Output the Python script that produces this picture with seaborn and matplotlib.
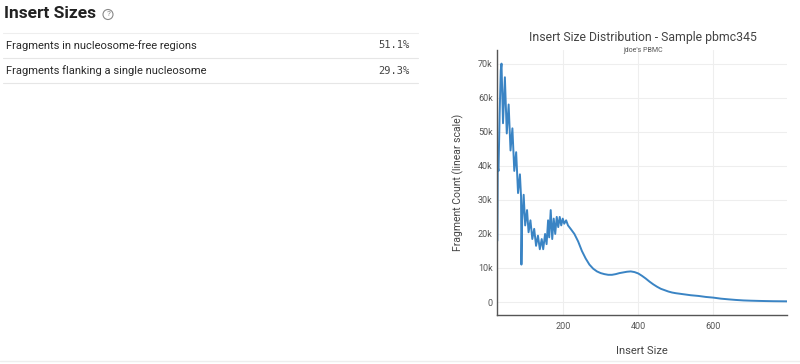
import matplotlib
matplotlib.use("Agg")
import matplotlib.pyplot as plt
import seaborn as sns
import pandas as pd
from matplotlib.lines import Line2D
from matplotlib.patches import Ellipse
from matplotlib.ticker import FuncFormatter, FixedLocator

# ---- data ----
section_title = "Insert Sizes"
table_labels = ["Fragments in nucleosome-free regions", "Fragments flanking a single nucleosome"]
table_values = ["51.1%", "29.3%"]

chart_title = "Insert Size Distribution - Sample pbmc345"
chart_subtitle = "jdoe's PBMC"
x_label = "Insert Size"
y_label = "Fragment Count (linear scale)"

insert_size = [25, 26, 28, 31, 34, 36, 40, 45, 50, 55, 60, 65, 70, 75, 80, 85, 88, 89, 91,
               95, 99, 104, 108, 113, 118, 123, 128, 133, 138, 143, 147, 152, 156, 160, 163,
               167, 171, 175, 179, 183, 187, 191, 195, 199, 203, 208, 213, 220, 230, 240,
               250, 260, 270, 280, 290, 300, 310, 320, 330, 340, 350, 360, 370, 380, 390,
               400, 410, 420, 430, 440, 450, 460, 470, 480, 490, 500, 520, 540, 560, 580,
               600, 620, 640, 660, 680, 700, 720, 740, 760, 780, 797]
fragment_count = [18000, 40000, 38500, 55000, 68000, 70000, 52500, 66000, 49500, 58000,
                  44500, 51000, 38500, 44000, 32000, 37500, 31000, 11000, 24000,
                  31500, 22500, 27000, 20500, 24000, 18500, 21500, 16500, 19500, 15500,
                  18500, 15500, 20000, 17000, 24000, 19000, 27000, 18500, 24500, 20000,
                  25000, 22000, 25000, 22500, 24500, 23000, 24000, 22500, 21500, 20000,
                  17800, 15000, 12800, 11000, 9800, 9000, 8500, 8200, 8000, 8000, 8200,
                  8500, 8700, 8900, 9000, 8800, 8400, 7700, 6900, 6000, 5200, 4500, 3900,
                  3500, 3100, 2800, 2600, 2300, 2000, 1800, 1500, 1300, 1000, 800, 620,
                  480, 400, 340, 290, 250, 230, 210]

x_ticks = [200, 400, 600]
y_ticks = [0, 10000, 20000, 30000, 40000, 50000, 60000, 70000]

df = pd.DataFrame({"Insert Size": insert_size, "Count": fragment_count})

sns.set_theme(style="white")
plt.rcParams["font.family"] = ["Roboto", "DejaVu Sans"]

W, H = 800, 364
fig = plt.figure(figsize=(W / 100, H / 100), dpi=100)
fig.patch.set_facecolor("white")

def fx(px):
    return px / W

def fy(py):
    return 1 - py / H

text_dark = "#2a2a2a"

# ---- left panel: title + table ----
fig.text(fx(4), fy(14), section_title, fontsize=12.5, fontweight="bold", color="#222222",
         ha="left", va="center")
fig.patches.append(Ellipse((fx(108), fy(14.5)), 10 / W, 10 / H, transform=fig.transFigure,
                           fill=False, edgecolor="#888888", linewidth=0.8))
fig.text(fx(108.2), fy(14.5), "?", fontsize=6, color="#888888", ha="center", va="center")

for yy, col in [(33, "#eeeeee"), (58, "#e6e6e6"), (83, "#e6e6e6")]:
    fig.add_artist(Line2D([fx(3), fx(418)], [fy(yy), fy(yy)], transform=fig.transFigure,
                          color=col, linewidth=0.8))

for i, (lab, val) in enumerate(zip(table_labels, table_values)):
    yy = 45.5 + i * 25.5
    fig.text(fx(6), fy(yy), lab, fontsize=8, color=text_dark, ha="left", va="center")
    fig.text(fx(410), fy(yy), val, fontsize=7.5, color="#444444", ha="right", va="center",
             family="DejaVu Sans Mono")

# bottom separator
fig.add_artist(Line2D([0, 1], [fy(361), fy(361)], transform=fig.transFigure,
                      color="#eeeeee", linewidth=1.0))

# ---- chart ----
left, right, top, bottom = 497, 787, 50, 315
ax = fig.add_axes([fx(left), fy(bottom), fx(right - left), (bottom - top) / H])
sns.lineplot(data=df, x="Insert Size", y="Count", ax=ax, color="#3a84c4", linewidth=1.4)

ax.set_xlim(24, 796)
ax.set_ylim(-3800, 74000)
ax.xaxis.set_major_locator(FixedLocator(x_ticks))
ax.yaxis.set_major_locator(FixedLocator(y_ticks))
ax.yaxis.set_major_formatter(FuncFormatter(lambda v, p: "0" if v == 0 else f"{int(v/1000)}k"))
ax.grid(True, color="#eeeeee", linewidth=0.8)
ax.set_axisbelow(True)
for s in ["top", "right"]:
    ax.spines[s].set_visible(False)
ax.spines["left"].set_color("#555555")
ax.spines["bottom"].set_color("#555555")
ax.spines["left"].set_linewidth(1.0)
ax.spines["bottom"].set_linewidth(1.0)
ax.tick_params(axis="both", length=0, labelsize=6.5, labelcolor="#555555")
ax.tick_params(axis="y", pad=3)
ax.tick_params(axis="x", pad=5)
ax.set_xlabel(x_label, fontsize=8, color="#444444", labelpad=11)
ax.set_ylabel(y_label, fontsize=7.5, color="#444444", labelpad=10)

fig.text(fx(643), fy(38), chart_title, fontsize=8.8, color="#444444", ha="center", va="center")
fig.text(fx(643), fy(51), chart_subtitle, fontsize=5, color="#555555", ha="center", va="center")

fig.savefig("out.png", dpi=100, facecolor="white")
